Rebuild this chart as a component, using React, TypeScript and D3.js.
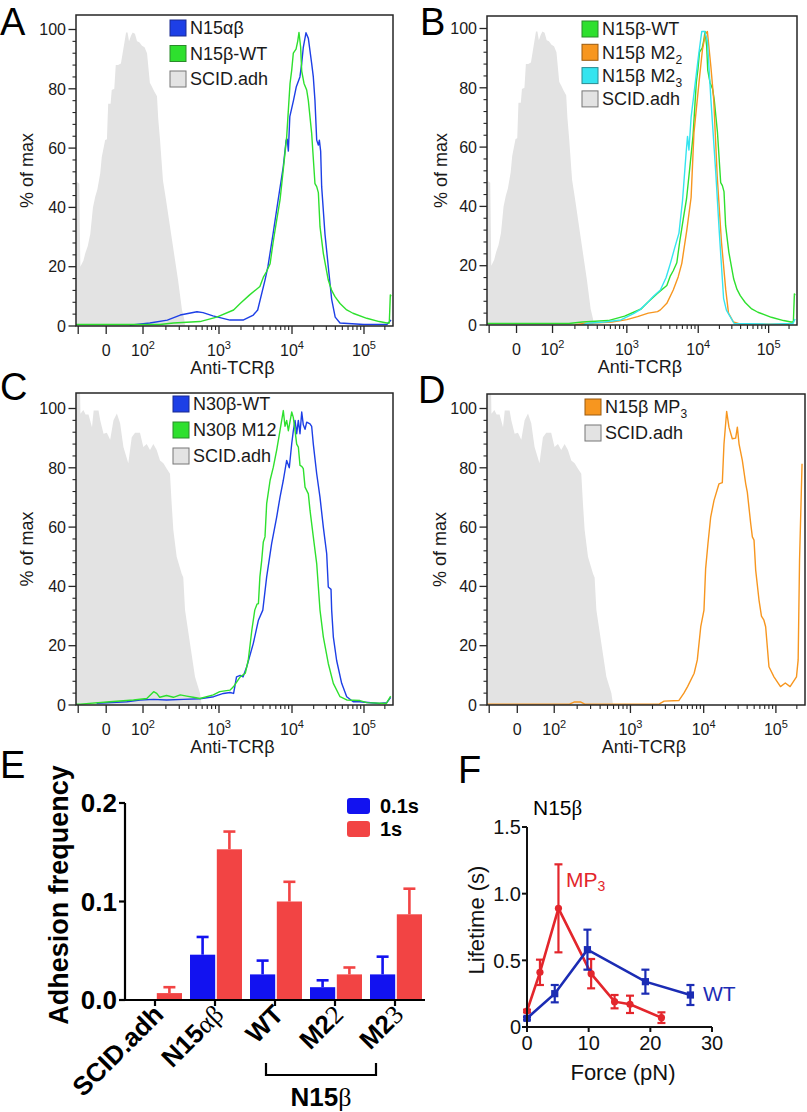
import React from "react";
import * as d3 from "d3";

type Pt = [number, number];

const FONT = "'Liberation Sans', Arial, Helvetica, sans-serif";
const SERIF = "'Liberation Serif', 'DejaVu Serif', 'Times New Roman', serif";

// ---------- Flow cytometry axis (display units: 10^k -> k, 0 -> 1.5) ----------
const U_BREAKS = [1.09, 2, 3, 4, 5, 5.4185];
const U_FRACS = [0, 0.2114, 0.4511, 0.6814, 0.9085, 1];
const X_MAJOR = [1.12, 1.5, 2, 3, 4, 5];
const X_LABELS = [
  { u: 1.5, base: "0", exp: "" },
  { u: 2, base: "10", exp: "2" },
  { u: 3, base: "10", exp: "3" },
  { u: 4, base: "10", exp: "4" },
  { u: 5, base: "10", exp: "5" },
];
const Y_MAJOR = [0, 20, 40, 60, 80, 100];

// SCID.adh histogram used in A and B
const grayAB: Pt[] = [
  [1.095, 48.7], [1.135, 48], [1.149, 20], [1.19, 22], [1.216, 24.5], [1.25, 27], [1.284, 31], [1.32, 40],
  [1.351, 43.6], [1.38, 46], [1.419, 51.5], [1.44, 57], [1.486, 62.7], [1.51, 63], [1.527, 75], [1.56, 75],
  [1.575, 79.6], [1.61, 80], [1.63, 88], [1.662, 88], [1.70, 88.5], [1.73, 93], [1.77, 99], [1.79, 99],
  [1.81, 96], [1.838, 98], [1.86, 99], [1.89, 98.6], [1.919, 96], [1.95, 95.7], [1.986, 94.5], [2.02, 94],
  [2.053, 92], [2.09, 82], [2.118, 80.7], [2.15, 79], [2.184, 77.5], [2.2, 70], [2.224, 62.7], [2.263, 49],
  [2.3, 43], [2.329, 38], [2.395, 26.7], [2.461, 15.5], [2.513, 5.4], [2.53, 3.6], [2.545, 2], [2.553, 0],
];

const blueA: Pt[] = [
  [1.82, 0.3], [2.09, 1], [2.32, 2], [2.49, 3.7], [2.71, 4.8], [2.79, 4.5], [2.92, 3.4], [3.15, 2],
  [3.33, 2], [3.47, 3.7], [3.53, 5.4], [3.63, 15.5], [3.67, 20], [3.74, 31], [3.81, 42.5], [3.88, 53.7],
  [3.92, 62.7], [3.935, 63], [3.95, 59], [3.97, 70.6], [4.02, 76], [4.06, 80.7], [4.11, 84], [4.135, 88.6],
  [4.157, 94], [4.194, 98.9], [4.227, 97], [4.273, 88.6], [4.296, 84], [4.319, 76], [4.343, 62.7],
  [4.366, 61], [4.38, 62.7], [4.398, 59], [4.412, 47], [4.458, 31], [4.504, 20], [4.551, 9], [4.6, 3],
  [4.667, 1], [5.0, 0.5], [5.33, 0.5], [5.39, 2],
];

const greenWT: Pt[] = [
  [1.09, 0.5], [2.22, 0.5], [2.4, 1], [2.75, 1.5], [2.97, 3], [3.2, 5.4], [3.29, 7.6], [3.42, 10.5],
  [3.56, 13.3], [3.61, 16.6], [3.65, 18.3], [3.7, 21], [3.74, 28], [3.79, 35.7], [3.836, 42.5],
  [3.88, 52.6], [3.927, 63.8], [3.95, 72.8], [3.973, 81.8], [3.996, 86.3], [4.018, 92], [4.056, 93.4],
  [4.079, 96], [4.097, 99], [4.12, 94], [4.135, 86], [4.167, 81.8], [4.204, 79.6], [4.227, 76],
  [4.273, 65], [4.319, 48], [4.343, 47], [4.366, 45], [4.389, 33.5], [4.435, 24.5], [4.504, 15.5],
  [4.551, 12], [4.597, 9.9], [4.667, 7.6], [4.713, 6.5], [4.76, 5.4], [4.847, 4.3], [5.04, 2.6],
  [5.22, 1.5], [5.33, 1], [5.365, 1], [5.38, 10.5], [5.39, 10],
];

const orangeM22: Pt[] = [
  [2.3, 0], [2.42, 0.5], [2.8, 1], [3.0, 1.8], [3.15, 2.8], [3.3, 4], [3.43, 4.5], [3.47, 5.1],
  [3.56, 7.3], [3.65, 11.8], [3.72, 16.3], [3.77, 20.8], [3.84, 32], [3.9, 43], [3.94, 64.8],
  [4.01, 81.6], [4.06, 92.9], [4.1, 98], [4.13, 99], [4.18, 87], [4.22, 76], [4.27, 50], [4.33, 28],
  [4.39, 12], [4.43, 4], [4.5, 1], [4.6, 0.3], [5.0, 0.3], [5.3, 0.3],
];

const cyanM23: Pt[] = [
  [2.4, 0], [2.47, 0.6], [2.7, 1], [2.92, 1.7], [3.1, 3.9], [3.18, 5.1], [3.28, 7.3], [3.37, 9.6],
  [3.47, 11.8], [3.55, 16], [3.61, 20.8], [3.67, 26], [3.73, 31], [3.78, 42], [3.83, 58], [3.85, 63.6],
  [3.87, 59], [3.9, 70], [3.95, 80], [4.0, 90], [4.05, 99], [4.09, 99], [4.13, 96], [4.18, 76],
  [4.25, 51], [4.3, 31], [4.36, 9], [4.4, 5], [4.51, 0.5], [5.0, 0.3], [5.36, 0.5], [5.39, 2],
];

// SCID.adh histogram used in C and D
const grayCD: Pt[] = [
  [1.09, 106], [1.145, 106], [1.15, 98.2], [1.19, 99.5], [1.22, 98], [1.26, 98], [1.307, 93.7],
  [1.33, 99.3], [1.351, 99.3], [1.396, 99.3], [1.419, 96], [1.464, 91.5], [1.509, 91.8], [1.554, 89.5],
  [1.599, 96], [1.645, 98.3], [1.689, 95], [1.734, 87], [1.80, 81.5], [1.847, 90.3], [1.892, 91.8],
  [1.959, 91.8], [2.004, 87], [2.049, 88], [2.092, 86], [2.136, 88], [2.18, 86], [2.224, 82.5],
  [2.268, 81.5], [2.312, 79.7], [2.355, 78], [2.377, 67.9], [2.399, 59], [2.443, 50], [2.509, 44.3],
  [2.53, 43], [2.553, 32], [2.618, 20.8], [2.684, 9.5], [2.75, 4], [2.772, 0],
];

const blueN30: Pt[] = [
  [1.37, 0.6], [1.78, 1.1], [1.96, 1.7], [2.14, 1.9], [2.31, 1.7], [2.53, 1.9], [2.75, 2.1], [2.93, 2.8],
  [3.06, 3.9], [3.15, 4.2], [3.2, 3.9], [3.24, 9.5], [3.29, 10], [3.33, 9.5], [3.38, 12.9], [3.47, 20.8],
  [3.54, 28.6], [3.6, 32], [3.653, 43.2], [3.721, 54.4], [3.79, 63.4], [3.836, 70.1], [3.881, 75.8],
  [3.927, 82.5], [3.963, 80], [3.996, 88.1], [4.018, 92.4], [4.042, 96], [4.065, 91.5], [4.088, 96],
  [4.111, 91.5], [4.135, 98.8], [4.157, 94.5], [4.181, 93], [4.204, 95.4], [4.25, 94.8], [4.273, 94],
  [4.296, 88], [4.343, 78], [4.389, 70], [4.435, 60], [4.482, 51], [4.504, 39.8], [4.542, 39],
  [4.551, 32], [4.574, 23], [4.62, 15], [4.69, 7.3], [4.76, 2.8], [4.85, 1.1], [4.94, 1.1], [5.22, 0.5],
  [5.33, 0.8], [5.385, 2.6],
];

const greenN30M12: Pt[] = [
  [1.09, 0.3], [1.15, 0.3], [1.55, 1.1], [1.87, 1.7], [2.05, 2.2], [2.14, 4.5], [2.18, 3.9], [2.22, 2.6],
  [2.31, 3.2], [2.4, 2.6], [2.49, 3.4], [2.575, 3.0], [2.66, 2.6], [2.75, 2.2], [2.925, 3.4], [3.01, 4.5],
  [3.15, 5], [3.2, 6.2], [3.29, 9.5], [3.36, 10.7], [3.40, 15], [3.45, 25.3], [3.49, 32], [3.52, 34],
  [3.54, 34.2], [3.56, 43.2], [3.585, 48.8], [3.607, 55], [3.63, 56.7], [3.653, 67.9], [3.7, 75.8],
  [3.744, 80.2], [3.79, 86], [3.836, 92.6], [3.881, 99.3], [3.904, 94], [3.927, 96], [3.95, 92.5],
  [3.996, 98.8], [4.018, 97], [4.042, 92.6], [4.065, 88], [4.088, 87], [4.111, 80.8], [4.135, 80.5],
  [4.157, 79.7], [4.181, 73.5], [4.227, 71.2], [4.25, 65.7], [4.296, 56.7], [4.343, 47.7], [4.389, 32],
  [4.435, 23], [4.504, 14], [4.574, 7.3], [4.667, 2.8], [4.76, 1.7], [4.944, 1.5], [5.04, 0.8],
  [5.32, 0.5], [5.385, 3],
];

const orangeMP3: Pt[] = [
  [1.09, 0.3], [2.2, 0.3], [2.26, 1], [2.35, 1], [2.4, 0.3], [3.39, 0.3], [3.46, 1.3], [3.66, 1.5],
  [3.73, 4], [3.78, 6.2], [3.87, 10.7], [3.913, 15.2], [3.96, 26.4], [4.004, 32], [4.027, 46],
  [4.059, 54.4], [4.097, 63.4], [4.143, 69], [4.212, 74.6], [4.258, 75], [4.281, 88], [4.318, 99],
  [4.35, 93.7], [4.396, 89.8], [4.443, 90], [4.466, 93.7], [4.49, 88], [4.535, 82.5], [4.582, 74.6],
  [4.604, 71.8], [4.651, 61.2], [4.674, 56.7], [4.697, 55.6], [4.72, 45.5], [4.766, 35.4], [4.8, 30],
  [4.834, 28.6], [4.858, 26.4], [4.904, 12.9], [4.973, 9.5], [5.066, 6.2], [5.135, 7.4], [5.204, 6.2],
  [5.296, 9.5], [5.32, 15.2], [5.34, 48.8], [5.376, 81.4],
];

// ---------- Panel E data ----------
const E_CATS = ["SCID.adh", "N15αβ", "WT", "M22", "M23"];
const E_SERIES = ["0.1s", "1s"];
const E_MEAN_01 = [0, 0.046, 0.026, 0.013, 0.026];
const E_SEM_01 = [0, 0.018, 0.014, 0.007, 0.018];
const E_MEAN_1 = [0.007, 0.153, 0.1, 0.026, 0.087];
const E_SEM_1 = [0.006, 0.018, 0.02, 0.007, 0.026];
const E_TICKS = [0, 0.1, 0.2];
const E_LABEL_PARTS: { t: string; serif?: boolean }[][] = [
  [{ t: "SCID.adh" }],
  [{ t: "N15" }, { t: "αβ", serif: true }],
  [{ t: "WT" }],
  [{ t: "M2" }, { t: "2", serif: true }],
  [{ t: "M2" }, { t: "3", serif: true }],
];

// ---------- Panel F data ----------
const F_WT_FORCE = [0, 4.5, 9.8, 19.2, 26.5];
const F_WT_LIFE = [0.065, 0.25, 0.58, 0.34, 0.24];
const F_WT_SEM = [0.01, 0.065, 0.15, 0.09, 0.075];
const F_MP3_FORCE = [0, 2.1, 5.1, 10.4, 14.2, 16.7, 21.8];
const F_MP3_LIFE = [0.12, 0.41, 0.89, 0.4, 0.19, 0.17, 0.07];
const F_MP3_SEM = [0.01, 0.095, 0.33, 0.11, 0.05, 0.065, 0.04];
const F_XTICKS = [0, 10, 20, 30];
const F_YTICKS = [0, 0.5, 1.0, 1.5];

const C_BLUE = "#1d3fe6";
const C_GREEN = "#2ee02e";
const C_ORANGE = "#f7961f";
const C_CYAN = "#35e4ef";
const C_GRAY = "#e3e3e3";

const LETTER_SIZE = 38;

type LegendItem = { base: string; sub?: string; fill: string; stroke: string };

function FlowPanel(p: {
  id: string;
  letter: string;
  letterX: number;
  letterY: number;
  left: number;
  right: number;
  top: number;
  bottom: number;
  gray: Pt[];
  curves: { data: Pt[]; color: string }[];
  legend: LegendItem[];
  legX: number;
  legY: number;
  legStep: number;
  ylabX: number;
}) {
  const x = d3
    .scaleLinear()
    .domain(U_BREAKS)
    .range(U_FRACS.map((f) => p.left + f * (p.right - p.left)));
  const y = d3.scaleLinear().domain([0, 100]).range([p.bottom, p.bottom - 296.5]);
  const line = d3
    .line<Pt>()
    .x((d) => x(d[0]))
    .y((d) => y(d[1]));
  const area = d3
    .area<Pt>()
    .x((d) => x(d[0]))
    .y0(p.bottom)
    .y1((d) => y(d[1]));
  const minorX: number[] = [];
  for (const dec of [2, 3, 4, 5])
    for (let k = 2; k <= 9; k++) {
      const u = dec + Math.log10(k);
      if (u < 5.41) minorX.push(u);
    }
  const minorY = d3.range(0, 101, 4).filter((v) => v % 20 !== 0);
  const cx = (p.left + p.right) / 2;
  const cy = (p.top + p.bottom) / 2;
  const grayFull: Pt[] = [[p.gray[0][0], 0], ...p.gray];
  return (
    <g>
      <clipPath id={p.id}>
        <rect x={p.left} y={p.top} width={p.right - p.left} height={p.bottom - p.top} />
      </clipPath>
      <g clipPath={`url(#${p.id})`}>
        <path d={area(grayFull) || ""} fill={C_GRAY} />
        {p.curves.map((c, i) => (
          <path key={i} d={line(c.data) || ""} fill="none" stroke={c.color} strokeWidth={1.4} strokeLinejoin="round" />
        ))}
      </g>
      <rect x={p.left} y={p.top} width={p.right - p.left} height={p.bottom - p.top} fill="none" stroke="#262626" strokeWidth={1.5} />
      {Y_MAJOR.map((v) => (
        <g key={"ym" + v}>
          <line x1={p.left - 7.5} x2={p.left} y1={y(v)} y2={y(v)} stroke="#262626" strokeWidth={1.3} />
          <text x={p.left - 10} y={y(v)} dy="0.36em" textAnchor="end" fontSize={16} fill="#1a1a1a">
            {v}
          </text>
        </g>
      ))}
      {minorY.map((v) => (
        <line key={"yn" + v} x1={p.left - 3.5} x2={p.left} y1={y(v)} y2={y(v)} stroke="#262626" strokeWidth={1.1} />
      ))}
      {X_MAJOR.map((u) => (
        <line key={"xm" + u} x1={x(u)} x2={x(u)} y1={p.bottom} y2={p.bottom + 8} stroke="#262626" strokeWidth={1.3} />
      ))}
      {minorX.map((u) => (
        <line key={"xn" + u} x1={x(u)} x2={x(u)} y1={p.bottom} y2={p.bottom + 4} stroke="#262626" strokeWidth={1.1} />
      ))}
      {X_LABELS.map((l) => (
        <text key={"xl" + l.u} x={x(l.u)} y={p.bottom + 30} textAnchor="middle" fontSize={16} fill="#1a1a1a">
          {l.base}
          {l.exp && (
            <tspan fontSize={11} dy={-7}>
              {l.exp}
            </tspan>
          )}
        </text>
      ))}
      <text x={cx - 2} y={p.bottom + 48} textAnchor="middle" fontSize={18} fill="#1a1a1a">
        Anti-TCRβ
      </text>
      <text transform={`translate(${p.ylabX},${cy}) rotate(-90)`} dy="0.36em" textAnchor="middle" fontSize={18} fill="#1a1a1a">
        % of max
      </text>
      {p.legend.map((it, i) => {
        const yy = p.legY + i * p.legStep;
        return (
          <g key={"lg" + i}>
            <rect x={p.legX} y={yy - 8} width={16} height={16} fill={it.fill} stroke={it.stroke} strokeWidth={1} />
            <text x={p.legX + 20} y={yy} dy="0.36em" fontSize={18} fill="#1a1a1a">
              {it.base}
              {it.sub && (
                <tspan fontSize={12} dy={5}>
                  {it.sub}
                </tspan>
              )}
            </text>
          </g>
        );
      })}
      <text x={p.letterX} y={p.letterY} fontSize={LETTER_SIZE} fill="#000">
        {p.letter}
      </text>
    </g>
  );
}

function PanelE() {
  const left = 125;
  const right = 425;
  const y = d3.scaleLinear().domain([0, 0.2]).range([1000, 803]);
  const xb = d3.scaleBand<string>().domain(E_CATS).range([left, right]);
  const xs = d3.scaleBand<string>().domain(E_SERIES).range([-25, 27]).paddingInner(0.06);
  const colors = ["#1212f0", "#f24444"];
  const means = [E_MEAN_01, E_MEAN_1];
  const sems = [E_SEM_01, E_SEM_1];
  const center = (c: string) => (xb(c) as number) + xb.bandwidth() / 2;
  return (
    <g fontFamily={FONT} fontWeight="bold">
      <text x={0} y={778} fontSize={LETTER_SIZE} fontWeight="normal">
        E
      </text>
      {E_CATS.map((c, ci) =>
        E_SERIES.map((s, si) => {
          const m = means[si][ci];
          const e = sems[si][ci];
          if (m <= 0) return null;
          const bx = center(c) + (xs(s) as number);
          const bw = xs.bandwidth();
          const mid = bx + bw / 2;
          return (
            <g key={c + s}>
              <rect x={bx} y={y(m)} width={bw} height={y(0) - y(m)} fill={colors[si]} />
              <line x1={mid} x2={mid} y1={y(m)} y2={y(m + e)} stroke={colors[si]} strokeWidth={2.6} />
              <line x1={mid - 6} x2={mid + 6} y1={y(m + e)} y2={y(m + e)} stroke={colors[si]} strokeWidth={2.6} />
            </g>
          );
        })
      )}
      <line x1={left} x2={left} y1={y(0.2)} y2={y(0)} stroke="#000" strokeWidth={2.2} />
      <line x1={left} x2={right} y1={y(0)} y2={y(0)} stroke="#000" strokeWidth={2.2} />
      {E_TICKS.map((t) => (
        <g key={"et" + t}>
          <line x1={left - 6} x2={left} y1={y(t)} y2={y(t)} stroke="#000" strokeWidth={2.2} />
          <text x={left - 8} y={y(t)} dy="0.36em" textAnchor="end" fontSize={26}>
            {t.toFixed(1)}
          </text>
        </g>
      ))}
      {E_CATS.map((c) => (
        <line key={"ex" + c} x1={center(c)} x2={center(c)} y1={y(0)} y2={y(0) + 6} stroke="#000" strokeWidth={2.2} />
      ))}
      {E_CATS.map((c, ci) => (
        <text
          key={"el" + c}
          transform={`translate(${center(c) + 10},${1016}) rotate(-45)`}
          textAnchor="end"
          fontSize={26}
        >
          {E_LABEL_PARTS[ci].map((pt, k) => (
            <tspan key={k} fontFamily={pt.serif ? SERIF : FONT} fontWeight={pt.serif ? "normal" : "bold"}>
              {pt.t}
            </tspan>
          ))}
        </text>
      ))}
      <text transform="translate(58,895) rotate(-90)" dy="0.36em" textAnchor="middle" fontSize={27}>
        Adhesion frequency
      </text>
      <path d="M266,1063 V1075 H376 V1063" fill="none" stroke="#000" strokeWidth={2.2} />
      <text x={321} y={1106} textAnchor="middle" fontSize={26}>
        N15<tspan fontFamily={SERIF} fontWeight="normal">β</tspan>
      </text>
      {E_SERIES.map((s, si) => (
        <g key={"eleg" + s}>
          <rect x={347} y={798 + si * 23} width={23} height={16} rx={3} fill={colors[si]} />
          <text x={380} y={806 + si * 23} dy="0.36em" fontSize={20}>
            {s}
          </text>
        </g>
      ))}
    </g>
  );
}

function PanelF() {
  const x = d3.scaleLinear().domain([0, 30]).range([527, 712]);
  const y = d3.scaleLinear().domain([0, 1.5]).range([1027, 827]);
  const red = "#e3262c";
  const blue = "#1b2cb4";
  const wt = F_WT_FORCE.map((f, i) => ({ f, l: F_WT_LIFE[i], s: F_WT_SEM[i] }));
  const mp = F_MP3_FORCE.map((f, i) => ({ f, l: F_MP3_LIFE[i], s: F_MP3_SEM[i] }));
  const line = d3
    .line<{ f: number; l: number }>()
    .x((d) => x(d.f))
    .y((d) => y(d.l));
  const errs = (arr: { f: number; l: number; s: number }[], col: string, key: string) =>
    arr.map((d, i) => (
      <g key={key + i} stroke={col} strokeWidth={2.2}>
        <line x1={x(d.f)} x2={x(d.f)} y1={y(d.l - d.s)} y2={y(d.l + d.s)} />
        <line x1={x(d.f) - 4} x2={x(d.f) + 4} y1={y(d.l - d.s)} y2={y(d.l - d.s)} />
        <line x1={x(d.f) - 4} x2={x(d.f) + 4} y1={y(d.l + d.s)} y2={y(d.l + d.s)} />
      </g>
    ));
  return (
    <g fontFamily={FONT}>
      <text x={458} y={783} fontSize={LETTER_SIZE}>
        F
      </text>
      <text x={533} y={815} fontSize={21}>
        N15<tspan fontFamily={SERIF}>β</tspan>
      </text>
      <path d={line(mp) || ""} fill="none" stroke={red} strokeWidth={2.6} />
      {errs(mp, red, "mp")}
      {mp.map((d, i) => (
        <circle key={"mc" + i} cx={x(d.f)} cy={y(d.l)} r={3.6} fill={red} />
      ))}
      <path d={line(wt) || ""} fill="none" stroke={blue} strokeWidth={2.6} />
      {errs(wt, blue, "wt")}
      {wt.map((d, i) => (
        <rect key={"wr" + i} x={x(d.f) - 3.6} y={y(d.l) - 3.6} width={7.2} height={7.2} fill={blue} />
      ))}
      <line x1={527} x2={527} y1={y(1.5)} y2={y(0)} stroke="#111" strokeWidth={2} />
      <line x1={527} x2={712} y1={y(0)} y2={y(0)} stroke="#111" strokeWidth={2} />
      {F_YTICKS.map((t) => (
        <g key={"fy" + t}>
          <line x1={522} x2={527} y1={y(t)} y2={y(t)} stroke="#111" strokeWidth={2} />
          <text x={521} y={y(t)} dy="0.36em" textAnchor="end" fontSize={20} fill="#111">
            {t === 0 ? "0" : t.toFixed(1)}
          </text>
        </g>
      ))}
      {F_XTICKS.map((t) => (
        <g key={"fx" + t}>
          <line x1={x(t)} x2={x(t)} y1={y(0)} y2={y(0) + 5} stroke="#111" strokeWidth={2} />
          <text x={x(t)} y={1050} textAnchor="middle" fontSize={20} fill="#111">
            {t}
          </text>
        </g>
      ))}
      <text x={623} y={1080} textAnchor="middle" fontSize={22} fill="#111">
        Force (pN)
      </text>
      <text transform="translate(476,920) rotate(-90)" dy="0.36em" textAnchor="middle" fontSize={22} fill="#111">
        Lifetime (s)
      </text>
      <text x={566} y={887} fontSize={21} fill={red}>
        MP<tspan fontSize={14} dy={4}>3</tspan>
      </text>
      <text x={703} y={1001} fontSize={21} fill={blue}>
        WT
      </text>
    </g>
  );
}

export default function App() {
  return (
    <svg
      width={807}
      height={1112}
      viewBox="0 0 807 1112"
      style={{ position: "absolute", left: 0, top: 0, background: "#fff" }}
      fontFamily={FONT}
    >
      <rect x={0} y={0} width={807} height={1112} fill="#fff" />
      <FlowPanel
        id="clipA"
        letter="A"
        letterX={0}
        letterY={35}
        left={76}
        right={393}
        top={15}
        bottom={326}
        gray={grayAB}
        curves={[
          { data: blueA, color: C_BLUE },
          { data: greenWT, color: C_GREEN },
        ]}
        legend={[
          { base: "N15αβ", fill: C_BLUE, stroke: "#1a2a90" },
          { base: "N15β-WT", fill: C_GREEN, stroke: "#2a8a2a" },
          { base: "SCID.adh", fill: C_GRAY, stroke: "#777" },
        ]}
        legX={170}
        legY={28}
        legStep={25.5}
        ylabX={27}
      />
      <FlowPanel
        id="clipB"
        letter="B"
        letterX={420}
        letterY={35}
        left={487}
        right={797}
        top={16}
        bottom={325}
        gray={grayAB}
        curves={[
          { data: greenWT, color: C_GREEN },
          { data: orangeM22, color: C_ORANGE },
          { data: cyanM23, color: C_CYAN },
        ]}
        legend={[
          { base: "N15β-WT", fill: C_GREEN, stroke: "#2a8a2a" },
          { base: "N15β M2", sub: "2", fill: C_ORANGE, stroke: "#9a5a10" },
          { base: "N15β M2", sub: "3", fill: C_CYAN, stroke: "#2a8a90" },
          { base: "SCID.adh", fill: C_GRAY, stroke: "#777" },
        ]}
        legX={582}
        legY={29}
        legStep={23.3}
        ylabX={441}
      />
      <FlowPanel
        id="clipC"
        letter="C"
        letterX={0}
        letterY={400}
        left={76}
        right={393}
        top={393}
        bottom={705}
        gray={grayCD}
        curves={[
          { data: blueN30, color: C_BLUE },
          { data: greenN30M12, color: C_GREEN },
        ]}
        legend={[
          { base: "N30β-WT", fill: C_BLUE, stroke: "#1a2a90" },
          { base: "N30β M12", fill: C_GREEN, stroke: "#2a8a2a" },
          { base: "SCID.adh", fill: C_GRAY, stroke: "#777" },
        ]}
        legX={173}
        legY={404}
        legStep={26}
        ylabX={27}
      />
      <FlowPanel
        id="clipD"
        letter="D"
        letterX={418}
        letterY={403}
        left={487}
        right={805}
        top={394}
        bottom={705}
        gray={grayCD}
        curves={[{ data: orangeMP3, color: C_ORANGE }]}
        legend={[
          { base: "N15β MP", sub: "3", fill: C_ORANGE, stroke: "#9a5a10" },
          { base: "SCID.adh", fill: C_GRAY, stroke: "#777" },
        ]}
        legX={585}
        legY={407}
        legStep={26}
        ylabX={440}
      />
      <PanelE />
      <PanelF />
    </svg>
  );
}
